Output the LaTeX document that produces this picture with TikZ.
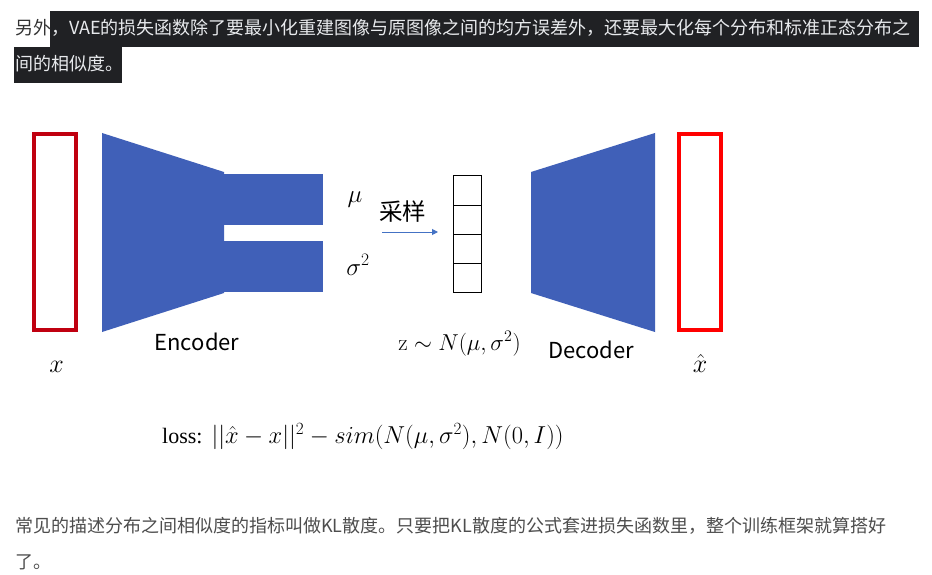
\documentclass[tikz,border=0pt]{standalone}
\usepackage{fix-cm}
\usepackage{fontspec}
\newfontfamily\cjk{Noto Sans CJK SC}
\newfontfamily\timesf{Liberation Serif}
\usetikzlibrary{arrows.meta}
\definecolor{encblue}{RGB}{64,96,184}
\definecolor{hlbg}{RGB}{32,33,36}
\definecolor{hltext}{RGB}{232,234,237}
\definecolor{plaintxt}{RGB}{51,51,51}
\definecolor{bodytxt}{RGB}{77,77,77}
\definecolor{darkred}{RGB}{192,0,16}
\definecolor{brightred}{RGB}{255,0,0}
\definecolor{arrowblue}{RGB}{68,114,196}
\tikzset{
  para/.style={anchor=base west,inner sep=0pt,font=\cjk\fontsize{18}{18}\selectfont},
  lbl/.style={anchor=base,inner sep=0pt},
  zcell/.style={draw=black,line width=1pt,minimum width=28.7pt,minimum height=29pt,inner sep=0pt},
  vec/.style={line width=4pt},
  netshape/.style={fill=encblue},
}
\begin{document}
\begin{tikzpicture}[x=1pt,y=-1pt]
\useasboundingbox[fill=white] (0,0) rectangle (932,575);
% highlight background
\fill[hlbg] (50,11) rectangle (919,47);
\fill[hlbg] (14,47) rectangle (122,83);
\node[para] (p1) at (15,34.5) {\color{plaintxt}另外\color{hltext}，VAE的损失函数除了要最小化重建图像与原图像之间的均方误差外，还要最大化每个分布和标准正态分布之};
\node[para,text=hltext] (p2) at (15,70.5) {间的相似度。};
% input / output vectors
\node[draw=darkred,vec,minimum width=42pt,minimum height=196pt,inner sep=0pt] (xin) at (55,232) {};
\node[draw=brightred,vec,minimum width=42.6pt,minimum height=196pt,inner sep=0pt] (xout) at (700,232) {};
% encoder
\fill[netshape] (102,133) -- (224,172) -- (224,293) -- (102,332) -- cycle;
\fill[netshape] (224,174) rectangle (323,225);
\fill[netshape] (224,241) rectangle (323,292);
% decoder
\fill[netshape] (531,172) -- (655,133) -- (655,332) -- (531,293) -- cycle;
% z cells
\node[zcell] (z1) at (467.4,190.5) {};
\node[zcell] (z2) at (467.4,219.5) {};
\node[zcell] (z3) at (467.4,248.5) {};
\node[zcell] (z4) at (467.4,277.5) {};
% sampling arrow
\coordinate (arrS) at (382,232);
\coordinate (arrE) at (438,232);
\draw[arrowblue,line width=1pt,-{Triangle[length=6pt,width=6pt]}] (arrS) -- (arrE);
\node[lbl,font=\cjk\fontsize{23.5}{23.5}\selectfont] (sample) at (402.5,220) {采样};
% labels
\node[lbl,font=\fontsize{25}{25}\selectfont] (mu) at (355,203) {$\mu$};
\node[lbl,font=\fontsize{25}{25}\selectfont] (sig) at (358,275) {$\sigma^2$};
\node[lbl,font=\cjk\fontsize{22}{22}\selectfont] (enc) at (197,350) {Encoder};
\node[lbl,font=\cjk\fontsize{22}{22}\selectfont] (dec) at (591,358) {Decoder};
\node[lbl,font=\fontsize{26}{26}\selectfont] (xl) at (56.5,372) {$x$};
\node[lbl,font=\fontsize{26}{26}\selectfont] (xhl) at (700,372) {$\hat{x}$};
\node[lbl,font=\fontsize{23}{23}\selectfont] (zl) at (459.5,350) {$\mathrm{z}\sim N(\mu,\sigma^2)$};
\node[anchor=base west,inner sep=0pt,font=\fontsize{24.5}{24.5}\selectfont] (loss) at (162,443) {{\timesf\fontsize{22}{22}\selectfont loss:}\hspace{9pt}$||\hat{x}-x||^2-sim(N(\mu,\sigma^2),N(0,I))$};
% bottom paragraph
\node[para,text=bodytxt] (b1) at (15,532) {常见的描述分布之间相似度的指标叫做KL散度。只要把KL散度的公式套进损失函数里，整个训练框架就算搭好};
\node[para,text=bodytxt] (b2) at (15,568) {了。};
\end{tikzpicture}
\end{document}
